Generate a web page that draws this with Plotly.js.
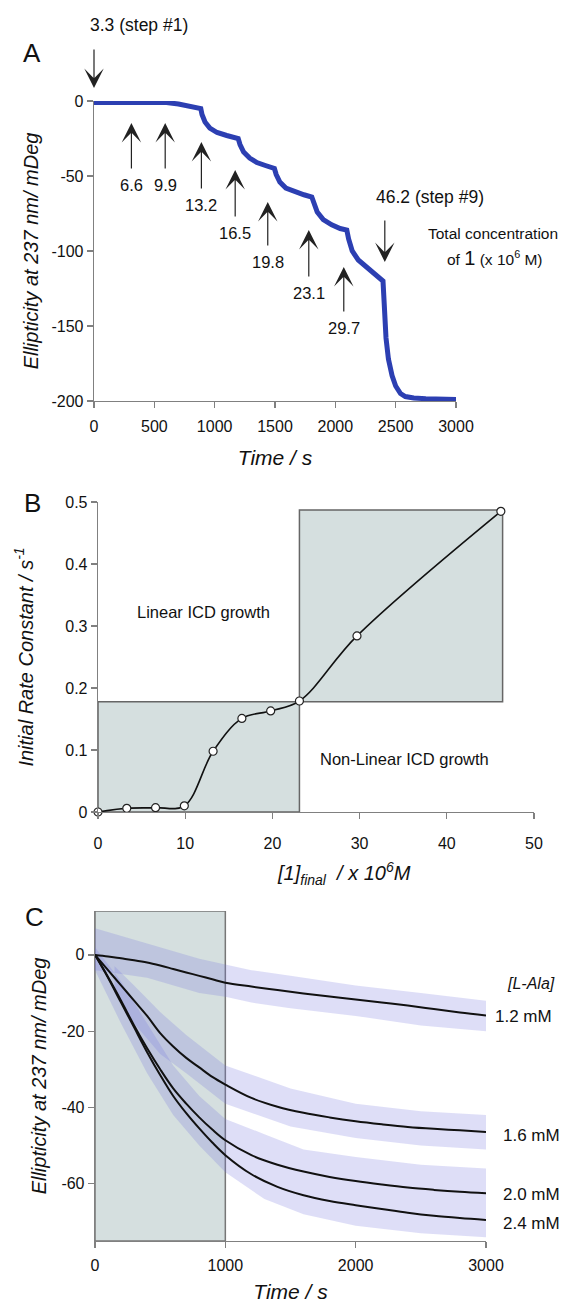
<!DOCTYPE html>
<html><head><meta charset="utf-8">
<script src="https://cdn.plot.ly/plotly-3.0.1.min.js"></script>
<style>html,body{margin:0;padding:0;background:#fff}#chart{width:563px;height:1303px}</style>
</head><body><div id="chart"></div>
<script>
// ---------- Panel A : stepwise titration trace ----------
const timeA = [0,300,600,700,800,885,895,920,960,1020,1100,1195,1210,1240,1290,1350,1420,1495,1510,1540,1590,1660,1740,1805,1820,1850,1900,1970,2040,2095,2110,2140,2190,2260,2330,2395,2405,2420,2440,2470,2500,2540,2580,2650,2750,3000];
const ellipA = [-1,-1,-1,-2,-3.5,-5,-9,-14,-18,-21,-23,-25,-29,-34,-38,-41,-43,-45,-49,-54,-58,-60.5,-62.5,-64,-68,-74,-79,-82.5,-85,-86,-92,-100,-106,-111,-116,-120,-135,-158,-172,-183,-190,-195,-197,-198,-198.5,-199];
const arrowTimes = [0,310,590,890,1170,1440,1780,2070,2410];
const arrowLabels = ['3.3 (step #1)','6.6','9.9','13.2','16.5','19.8','23.1','29.7','46.2 (step #9)'];
const xTicksA = [0,500,1000,1500,2000,2500,3000];
const yTicksA = [0,-50,-100,-150,-200];
const yTickTextA = ['0','-50','-100','-150','-200'];

// ---------- Panel B : initial rate constant ----------
const concB = [0,3.3,6.6,9.9,13.2,16.5,19.8,23.1,29.7,46.2];
const rateB = [0,0.006,0.007,0.01,0.098,0.151,0.163,0.179,0.284,0.485];
const xTicksB = [0,10,20,30,40,50];
const yTicksB = [0,0.1,0.2,0.3,0.4,0.5];
const yTickTextB = ['0','0.1','0.2','0.3','0.4','0.5'];

// ---------- Panel C : kinetic traces ----------
const timeC = [0,100,200,300,400,500,600,700,800,900,1000,1200,1400,1600,1800,2000,2200,2400,2600,2800,3000];
const fit12 = [0,-0.4,-0.9,-1.4,-2.0,-2.8,-3.7,-4.6,-5.5,-6.4,-7.3,-8.3,-9.2,-10.1,-10.9,-11.7,-12.5,-13.3,-14.2,-15.1,-15.9];
const fit16 = [0,-4,-8,-12,-16,-20.5,-24,-27,-29.5,-32,-34,-37.5,-39.8,-41.4,-42.6,-43.6,-44.4,-45.1,-45.6,-46,-46.4];
const fit20 = [0,-5.8,-12,-18.5,-24.5,-30,-35,-39,-42.6,-45.8,-48.6,-52.5,-55,-56.8,-58.2,-59.3,-60.2,-61,-61.6,-62.1,-62.5];
const fit24 = [0,-6,-12.5,-19,-25.5,-31.5,-37,-41.5,-45.5,-49.2,-52.5,-57.5,-60.8,-63,-64.5,-65.6,-66.6,-67.6,-68.4,-69,-69.5];
const concLabelsC = ['1.2 mM','1.6 mM','2.0 mM','2.4 mM'];
// spread of the raw data points (upper / lower envelope)
const band12T = [0,200,400,600,800,1000,1200,1500,2000,2500,3000];
const band12Up = [7,5,3,1,-1,-2.5,-4,-5.5,-8,-10,-12];
const band12Lo = [-4,-5,-6,-8,-10,-11,-12.5,-14,-16,-18.5,-20];
const band16T = [150,300,500,700,1000,1500,2000,2500,3000];
const band16Up = [-3,-8,-15,-21,-29,-35,-39,-41,-42];
const band16Lo = [-10,-18,-26,-31,-39,-45,-48,-50,-51];
const band24T = [0,200,400,600,800,1000,1300,1600,2000,2500,3000];
const band24Up = [2,-7,-18,-29,-37,-43,-47,-51,-53,-55,-56];
const band24Lo = [-4,-18,-31,-42,-50,-57,-64,-68,-71,-73,-74];
const xTicksC = [0,1000,2000,3000];
const yTicksC = [0,-20,-40,-60];
const yTickTextC = ['0','-20','-40','-60'];

// ---------- helpers (pixel -> paper) ----------
const W = 563, H = 1303;
const px = x => x / W;
const py = y => 1 - y / H;
const FONT = 'Liberation Sans, Arial, Helvetica, sans-serif';
const BOX = '#d5dfdf';

function band(t, up, lo, xa, ya) {
  return {x: t.concat(t.slice().reverse()), y: up.concat(lo.slice().reverse()),
    xaxis: xa, yaxis: ya, mode: 'lines', fill: 'toself', line: {width: 0},
    fillcolor: 'rgba(115,115,222,0.24)', hoverinfo: 'skip', showlegend: false};
}

const traces = [
  {x: timeA, y: ellipA, xaxis: 'x', yaxis: 'y', mode: 'lines',
   line: {color: '#2c3fb2', width: 5}, showlegend: false},
  {x: concB, y: rateB, xaxis: 'x2', yaxis: 'y2', mode: 'lines+markers',
   line: {color: '#111', width: 1.6, shape: 'spline', smoothing: 1},
   marker: {size: 8, color: '#fff', line: {color: '#222', width: 1.2}},
   cliponaxis: false, showlegend: false},
  band(band12T, band12Up, band12Lo, 'x3', 'y3'),
  band(band16T, band16Up, band16Lo, 'x3', 'y3'),
  band(band24T, band24Up, band24Lo, 'x3', 'y3'),
];
[fit12, fit16, fit20, fit24].forEach(f => traces.push({
  x: timeC, y: f, xaxis: 'x3', yaxis: 'y3', mode: 'lines',
  line: {color: '#111', width: 2, shape: 'spline'}, showlegend: false}));

const axBase = {showline: true, linecolor: '#808080', linewidth: 1.3, ticks: 'outside',
  ticklen: 6, tickcolor: '#808080', tickwidth: 1.3, showgrid: false, zeroline: false,
  tickfont: {family: FONT, size: 16, color: '#111'}, fixedrange: true};
const titleFont = {family: FONT, size: 20, color: '#111'};

const annotations = [];
function note(x, y, text, size, extra) {
  annotations.push(Object.assign({x: px(x), y: py(y), xref: 'paper', yref: 'paper',
    xanchor: 'center', yanchor: 'middle', showarrow: false, text: text,
    font: {family: FONT, size: size, color: '#111'}}, extra || {}));
}
// arrows of panel A: tip pixel row, and label (or tail) offset below/above the tip
const tipY = [88,123,123,142,170,202,230,267,262];
const labelOff = [-46,62,62,63,63,60,63,61,-49];
const arrowStyle = {showarrow: true, arrowhead: 3, arrowsize: 2.7, arrowwidth: 1.2, arrowcolor: '#222'};
arrowTimes.forEach((t, i) => {
  const edge = (i === 0 || i === arrowTimes.length - 1);
  annotations.push(Object.assign({x: t, y: py(tipY[i]), xref: 'x', yref: 'paper',
    ax: 0, ay: labelOff[i], text: edge ? '' : arrowLabels[i], borderpad: 7,
    xanchor: 'center', yanchor: 'middle',
    font: {family: FONT, size: 16.5, color: '#111'}}, arrowStyle));
});
note(138.7, 25, arrowLabels[0], 17.5);
note(429.5, 197, arrowLabels[8], 17.5);
note(493, 233, 'Total concentration', 15.5);
note(495, 258, 'of <span style="font-size:20px">1</span> (x 10<sup>6</sup> M)', 15.5);
// panel letters
note(32, 53, 'A', 26);
note(32, 503, 'B', 26);
note(34, 917, 'C', 26);
// panel B texts
note(203.5, 612, 'Linear ICD growth', 16.5);
note(404, 759, 'Non-Linear ICD growth', 16.5);
note(344, 873, '<i>[1]<sub>final</sub>  / x 10<sup>6</sup>M</i>', 20);
// panel C texts
note(531, 983, '<i>[L-Ala]</i>', 16);
const concLabelPos = [[493,1016],[501,1135],[501,1194],[501,1223]];
concLabelsC.forEach((s, i) => note(concLabelPos[i][0], concLabelPos[i][1], s, 17, {xanchor: 'left'}));

const shapes = [
  {type: 'rect', xref: 'x2', yref: 'y2', x0: 0, x1: 23.1, y0: 0, y1: 0.178, layer: 'below',
   fillcolor: BOX, line: {color: '#666', width: 1.5}},
  {type: 'rect', xref: 'x2', yref: 'y2', x0: 23.1, x1: 46.4, y0: 0.178, y1: 0.487, layer: 'below',
   fillcolor: BOX, line: {color: '#666', width: 1.5}},
  {type: 'rect', xref: 'x3', yref: 'y3', x0: 0, x1: 1000, y0: -75, y1: 11.5, layer: 'below',
   fillcolor: BOX, line: {color: '#777', width: 1.5}},
];

const layout = {
  width: W, height: H, margin: {l: 0, r: 0, t: 0, b: 0},
  paper_bgcolor: '#fff', plot_bgcolor: 'rgba(0,0,0,0)', showlegend: false,
  font: {family: FONT, color: '#111'},
  xaxis: Object.assign({}, axBase, {domain: [px(94), px(456)], range: [0, 3000], anchor: 'y',
    tickvals: xTicksA, ticklabelstandoff: 4,
    title: {text: '<i>Time / s</i>', font: {family: FONT, size: 21, color: '#111'}, standoff: 16}}),
  yaxis: Object.assign({}, axBase, {domain: [py(401), py(101)], range: [-200, 0], anchor: 'x',
    tickvals: yTicksA, ticktext: yTickTextA,
    title: {text: '<i>Ellipticity at 237 nm/ mDeg</i>', font: titleFont, standoff: 7}}),
  xaxis2: Object.assign({}, axBase, {domain: [px(98), px(534)], range: [0, 50], anchor: 'y2',
    tickvals: xTicksB, ticklabelstandoff: 10}),
  yaxis2: Object.assign({}, axBase, {domain: [py(812), py(502)], range: [0, 0.5], anchor: 'x2',
    tickvals: yTicksB, ticktext: yTickTextB,
    title: {text: '<i>Initial Rate Constant / s<sup>-1</sup></i>', font: titleFont, standoff: 26}}),
  xaxis3: Object.assign({}, axBase, {domain: [px(95), px(486)], range: [0, 3000], anchor: 'y3',
    tickvals: xTicksC, ticklabelstandoff: 3,
    title: {text: '<i>Time / s</i>', font: {family: FONT, size: 21, color: '#111'}, standoff: 14}}),
  yaxis3: Object.assign({}, axBase, {domain: [py(1241), py(911)], range: [-75, 11.5], anchor: 'x3',
    tickvals: yTicksC, ticktext: yTickTextC,
    title: {text: '<i>Ellipticity at 237 nm/ mDeg</i>', font: titleFont, standoff: 9}}),
  annotations: annotations, shapes: shapes
};

Plotly.newPlot('chart', traces, layout, {staticPlot: true, displayModeBar: false});
</script></body></html>
